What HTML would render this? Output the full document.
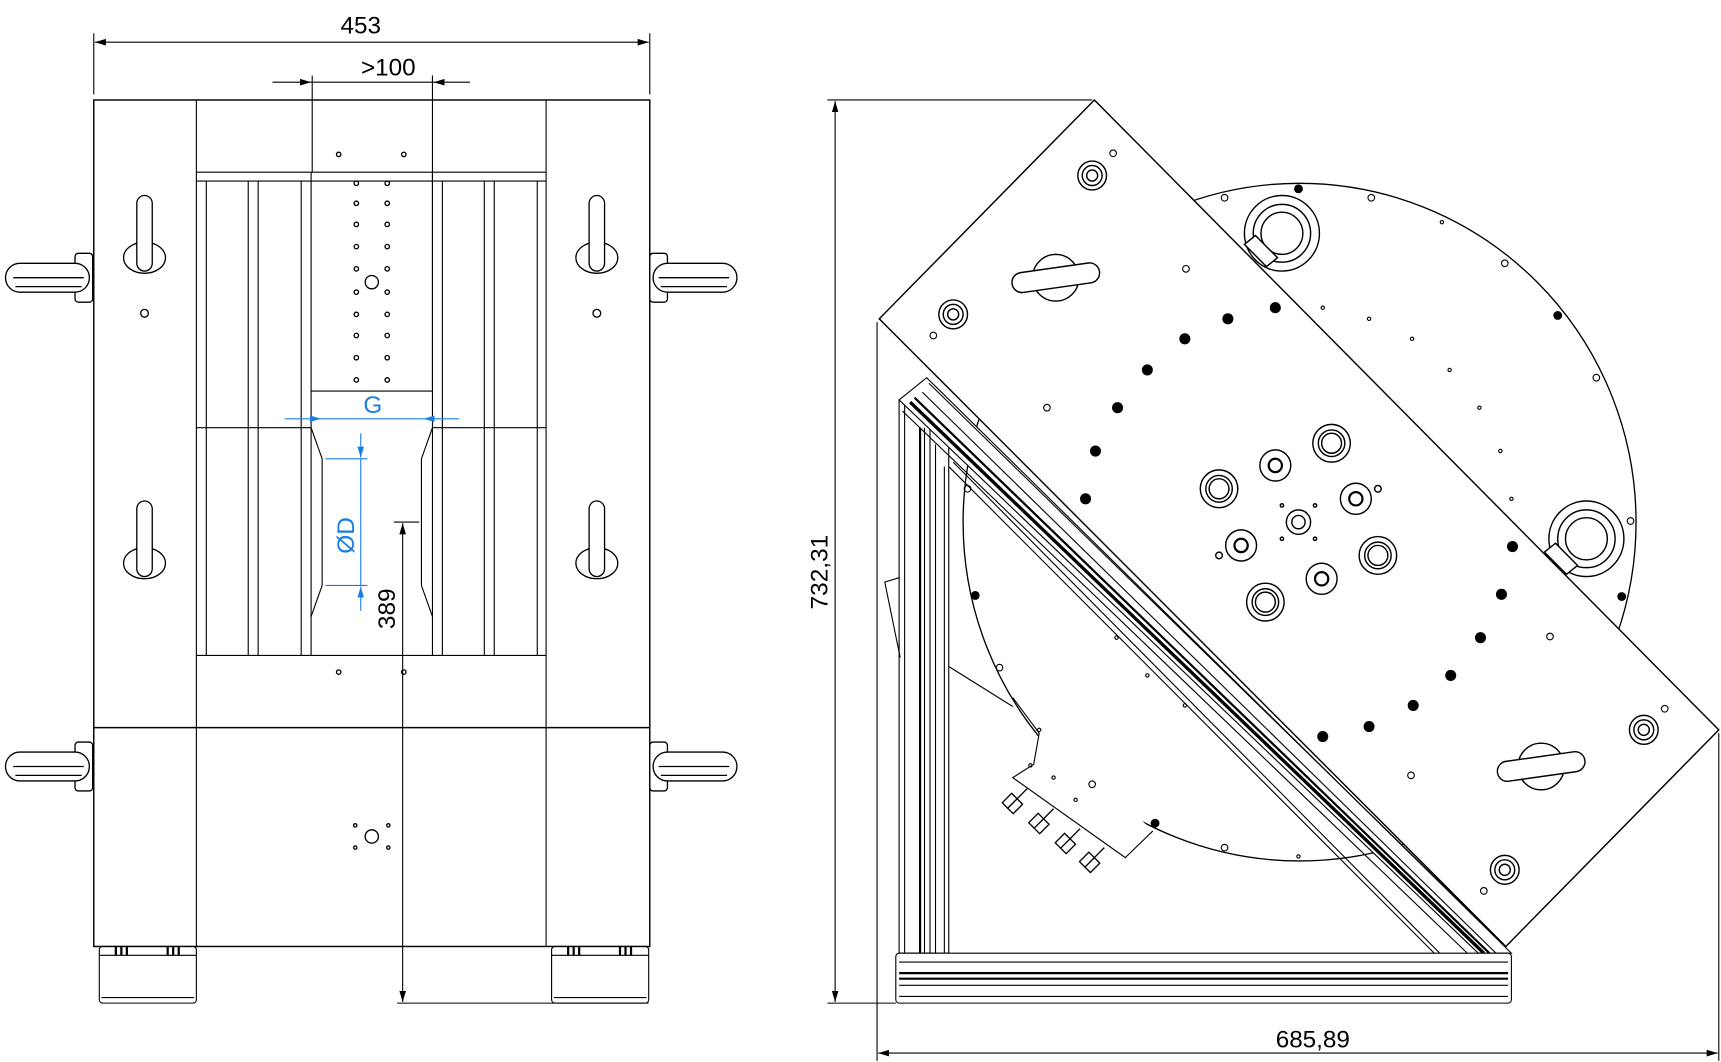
<!DOCTYPE html>
<html><head><meta charset="utf-8"><style>html,body{margin:0;padding:0;background:#fff}svg{display:block}</style></head>
<body>
<svg width="1721" height="1062" viewBox="0 0 1560 956" preserveAspectRatio="none" xmlns="http://www.w3.org/2000/svg" font-family="Liberation Sans, sans-serif">
<defs>
<marker id="a" viewBox="0 0 10 6" refX="10" refY="3" markerWidth="10" markerHeight="6" orient="auto-start-reverse" markerUnits="userSpaceOnUse"><path d="M0,0L10,3L0,6z" fill="#000"/></marker>
<marker id="b" viewBox="0 0 10 6" refX="10" refY="3" markerWidth="10" markerHeight="6" orient="auto-start-reverse" markerUnits="userSpaceOnUse"><path d="M0,0L10,3L0,6z" fill="#1a7fe0"/></marker>
<g id="sc" stroke="#000" fill="#fff" stroke-width="1.3"><circle r="13"/><circle r="9"/><circle r="5"/></g>
<g id="big" stroke="#000" fill="none" stroke-width="1.3"><circle r="17"/><circle r="12"/><circle r="9"/></g>
<g id="med" stroke="#000" fill="none" stroke-width="1.3"><circle r="14"/><circle r="6" stroke-width="2"/></g>
<g id="cn" stroke="#000" fill="#fff" stroke-width="1.2"><rect x="-7" y="-7" width="14" height="12" transform="rotate(45)"/><path d="M4,-4l10,-10M-4,4l10,-10"/></g>
</defs>
<g stroke="#000" fill="none" stroke-width="1">
<line x1="85" y1="30" x2="85" y2="85"/><line x1="589" y1="30" x2="589" y2="85"/>
<line x1="86" y1="38" x2="588" y2="38" marker-start="url(#a)" marker-end="url(#a)"/>
<line x1="283" y1="68" x2="283" y2="155"/><line x1="392" y1="68" x2="392" y2="350"/>
<line x1="247" y1="74" x2="282" y2="74" marker-end="url(#a)"/><line x1="426" y1="74" x2="393" y2="74" marker-end="url(#a)"/>
<line x1="282" y1="74" x2="393" y2="74"/>
<rect x="85" y="90" width="504" height="762" stroke-width="1.3"/>
<line x1="178" y1="90" x2="178" y2="852"/><line x1="495" y1="90" x2="495" y2="852"/>
<line x1="85" y1="655" x2="589" y2="655" stroke-width="1.3"/>
<line x1="178" y1="155" x2="495" y2="155"/><line x1="178" y1="163" x2="495" y2="163"/>
<line x1="178" y1="590" x2="495" y2="590"/>
<g>
<line x1="187" y1="163" x2="187" y2="590"/><line x1="225" y1="163" x2="225" y2="590"/><line x1="234" y1="163" x2="234" y2="590"/><line x1="273" y1="163" x2="273" y2="590"/><line x1="282" y1="155" x2="282" y2="590"/>
<line x1="392" y1="155" x2="392" y2="590"/><line x1="401" y1="163" x2="401" y2="590"/><line x1="439" y1="163" x2="439" y2="590"/><line x1="448" y1="163" x2="448" y2="590"/><line x1="487" y1="163" x2="487" y2="590"/>
<line x1="178" y1="385" x2="282" y2="385"/><line x1="392" y1="385" x2="495" y2="385"/>
<line x1="282" y1="352" x2="392" y2="352"/>
<path d="M282,385L292,413V527L282,555M392,385L382,413V527L392,555"/>
</g>
<g stroke-width="1.2">
<circle cx="307" cy="139" r="2"/><circle cx="366" cy="139" r="2"/>
<circle cx="307" cy="605" r="2"/><circle cx="366" cy="605" r="2"/>
<circle cx="131" cy="282" r="3.5"/><circle cx="541" cy="282" r="3.5"/>
<circle cx="337" cy="254" r="6"/><circle cx="337" cy="753" r="6"/>
<circle cx="322" cy="743" r="1.5"/><circle cx="352" cy="743" r="1.5"/><circle cx="322" cy="763" r="1.5"/><circle cx="352" cy="763" r="1.5"/>
<circle cx="323" cy="165" r="2"/><circle cx="351" cy="165" r="2"/><circle cx="323" cy="183" r="2"/><circle cx="351" cy="183" r="2"/><circle cx="323" cy="202" r="2"/><circle cx="351" cy="202" r="2"/><circle cx="323" cy="222" r="2"/><circle cx="351" cy="222" r="2"/><circle cx="323" cy="242" r="2"/><circle cx="351" cy="242" r="2"/><circle cx="323" cy="263" r="2"/><circle cx="351" cy="263" r="2"/><circle cx="323" cy="283" r="2"/><circle cx="351" cy="283" r="2"/><circle cx="323" cy="302" r="2"/><circle cx="351" cy="302" r="2"/><circle cx="323" cy="322" r="2"/><circle cx="351" cy="322" r="2"/><circle cx="323" cy="342" r="2"/><circle cx="351" cy="342" r="2"/>
</g>
<g stroke-width="1.2">
<g id="vh"><ellipse cx="131" cy="232" rx="19" ry="14"/><rect x="124" y="176" width="14" height="68" rx="7" fill="#fff"/></g>
<use href="#vh" y="275"/><use href="#vh" x="410"/><use href="#vh" x="410" y="275"/>
<g id="sh"><rect x="68" y="228" width="16" height="44" rx="3" fill="#fff"/><rect x="5" y="237" width="76" height="26" rx="13" fill="#fff"/><line x1="12" y1="250" x2="76" y2="250"/><line x1="14" y1="258" x2="74" y2="258"/></g>
<use href="#sh" y="440"/>
<g transform="translate(673,0) scale(-1,1)"><use href="#sh"/><use href="#sh" y="440"/></g>
</g>
<rect x="90" y="852" width="88" height="51" rx="3"/><rect x="500" y="852" width="88" height="51" rx="3"/>
<line x1="90" y1="860" x2="178" y2="860"/><line x1="500" y1="860" x2="588" y2="860"/>
<line x1="92" y1="898" x2="176" y2="898"/><line x1="502" y1="898" x2="586" y2="898"/>
<path d="M105,852v8M110,852v8M115,852v8M152,852v8M157,852v8M162,852v8M515,852v8M520,852v8M525,852v8M562,852v8M567,852v8M572,852v8" stroke-width="2"/>
<line x1="357" y1="470" x2="380" y2="470"/><line x1="360" y1="903" x2="588" y2="903"/>
<line x1="365" y1="471" x2="365" y2="902" marker-start="url(#a)" marker-end="url(#a)"/>
</g>
<g stroke="#1a7fe0" fill="none">
<line x1="258" y1="377" x2="291" y2="377" marker-end="url(#b)"/><line x1="416" y1="377" x2="384" y2="377" marker-end="url(#b)"/><line x1="291" y1="377" x2="384" y2="377"/>
<line x1="295" y1="413" x2="333" y2="413"/><line x1="295" y1="527" x2="333" y2="527"/>
<line x1="327" y1="390" x2="327" y2="412" marker-end="url(#b)"/><line x1="327" y1="550" x2="327" y2="528" marker-end="url(#b)"/><line x1="327" y1="413" x2="327" y2="527"/>
</g>
<g font-size="22">
<text x="327" y="30" text-anchor="middle">453</text>
<text x="352" y="68" text-anchor="middle">&gt;100</text>
<text x="338" y="372" text-anchor="middle" fill="#1a7fe0">G</text>
<text transform="translate(321,482) rotate(-90)" text-anchor="middle" fill="#1a7fe0">ØD</text>
<text transform="translate(358,548) rotate(-90)" text-anchor="middle">389</text>
<text transform="translate(750,515) rotate(-90)" text-anchor="middle">732,31</text>
<text x="1190" y="943" text-anchor="middle">685,89</text>
</g>
<g stroke="#000" fill="none" stroke-width="1">
<line x1="750" y1="90" x2="990" y2="90"/><line x1="750" y1="903" x2="812" y2="903"/>
<line x1="757" y1="91" x2="757" y2="902" marker-start="url(#a)" marker-end="url(#a)"/>
<line x1="795" y1="290" x2="795" y2="955"/><line x1="1558" y1="660" x2="1558" y2="955"/>
<line x1="796" y1="948" x2="1557" y2="948" marker-start="url(#a)" marker-end="url(#a)"/>
<circle cx="1178" cy="470" r="305" stroke-width="1.2"/>
<path d="M918,628L942,660L937,688L918,700L1020,772L1045,748" fill="#fff"/>
<polygon points="992,90 1558,657 1365,852 797,287" fill="#fff" stroke-width="1.3"/>
<g stroke-width="1.3"><circle cx="1162" cy="210" r="34"/><circle cx="1162" cy="210" r="26"/><circle cx="1162" cy="210" r="19"/>
<circle cx="1438" cy="485" r="34"/><circle cx="1438" cy="485" r="26"/><circle cx="1438" cy="485" r="19"/>
<path d="M1128,220l10,-8l20,20l-10,8z M1400,497l10,-8l20,20l-10,8z" fill="#fff"/></g>
<g stroke-width="1.3"><circle cx="957" cy="250" r="21" fill="#fff"/><rect x="917" y="241" width="80" height="18" rx="9" transform="rotate(-8 957 250)" fill="#fff"/>
<circle cx="1397" cy="690" r="21" fill="#fff"/><rect x="1357" y="681" width="80" height="18" rx="9" transform="rotate(-8 1397 690)" fill="#fff"/></g>
<use href="#sc" x="990" y="158"/><use href="#sc" x="864" y="283"/><use href="#sc" x="1490" y="657"/><use href="#sc" x="1364" y="783"/>
<use href="#big" x="1207" y="399"/><use href="#big" x="1105" y="440"/><use href="#big" x="1249" y="500"/><use href="#big" x="1147" y="542"/>
<use href="#med" x="1156" y="419"/><use href="#med" x="1229" y="449"/><use href="#med" x="1125" y="491"/><use href="#med" x="1198" y="521"/>
<g stroke-width="1.3">
<circle cx="1177" cy="470" r="11"/><circle cx="1177" cy="470" r="6"/>
<circle cx="1249" cy="440" r="3"/><circle cx="1105" cy="500" r="3"/>
<circle cx="1162" cy="455" r="1.5"/><circle cx="1192" cy="455" r="1.5"/><circle cx="1162" cy="485" r="1.5"/><circle cx="1192" cy="485" r="1.5"/>
</g>
<g fill="#000" stroke="none">
<circle cx="1113" cy="287" r="5"/><circle cx="1074" cy="305" r="5"/><circle cx="1040" cy="333" r="5"/><circle cx="1013" cy="367" r="5"/><circle cx="993" cy="406" r="5"/><circle cx="984" cy="449" r="5"/><circle cx="1156" cy="277" r="5"/>
<circle cx="1371" cy="492" r="5"/><circle cx="1361" cy="535" r="5"/><circle cx="1342" cy="574" r="5"/><circle cx="1315" cy="608" r="5"/><circle cx="1281" cy="635" r="5"/><circle cx="1241" cy="654" r="5"/><circle cx="1199" cy="663" r="5"/>
<circle cx="1177" cy="170" r="4"/><circle cx="1412" cy="284" r="4"/><circle cx="1470" cy="537" r="4"/><circle cx="884" cy="536" r="4"/><circle cx="1047" cy="741" r="4"/>
</g>
<g stroke-width="1">
<circle cx="1009" cy="138" r="3"/><circle cx="846" cy="302" r="3"/><circle cx="1075" cy="242" r="3"/><circle cx="949" cy="367" r="3"/><circle cx="1509" cy="638" r="3"/><circle cx="1345" cy="802" r="3"/><circle cx="1279" cy="698" r="3"/><circle cx="1405" cy="573" r="3"/>
<circle cx="1110" cy="178" r="3"/><circle cx="1243" cy="178" r="3"/><circle cx="1364" cy="237" r="3"/><circle cx="1447" cy="340" r="3"/><circle cx="1478" cy="469" r="3"/><circle cx="1110" cy="763" r="3"/><circle cx="906" cy="601" r="3"/><circle cx="877" cy="440" r="3"/>
<circle cx="1199" cy="277" r="1.5"/><circle cx="1241" cy="287" r="1.5"/><circle cx="1280" cy="305" r="1.5"/><circle cx="1314" cy="333" r="1.5"/><circle cx="1341" cy="367" r="1.5"/><circle cx="1360" cy="406" r="1.5"/><circle cx="1370" cy="449" r="1.5"/><circle cx="1307" cy="200" r="1.5"/><circle cx="1177" cy="771" r="1.5"/><circle cx="1012" cy="574" r="1.5"/><circle cx="1040" cy="608" r="1.5"/><circle cx="1074" cy="635" r="1.5"/>
<circle cx="942" cy="657" r="1.5"/><circle cx="934" cy="689" r="1.5"/><circle cx="990" cy="706" r="3"/><circle cx="955" cy="700" r="1.5"/><circle cx="975" cy="720" r="1.5"/>
</g>
<use href="#cn" x="917" y="724"/><use href="#cn" x="941" y="742"/><use href="#cn" x="965" y="760"/><use href="#cn" x="987" y="777"/>
<g stroke-width="1">
<rect x="815" y="360" width="45" height="498" fill="#fff"/>
<line x1="820" y1="365" x2="820" y2="858"/><line x1="834" y1="385" x2="834" y2="858" stroke-width="2"/><line x1="838" y1="385" x2="838" y2="858"/><line x1="843" y1="385" x2="843" y2="858"/><line x1="848" y1="400" x2="848" y2="858"/><line x1="856" y1="420" x2="856" y2="858"/>
<path d="M815,520l-13,4l14,68"/>
<path d="M860,600l58,36"/>
<polygon points="815,360 840,340 1370,858 1340,858" fill="#fff"/>
<line x1="818" y1="370" x2="1330" y2="858"/>
<line x1="825" y1="362" x2="1345" y2="858" stroke-width="3"/>
<line x1="829" y1="358" x2="1350" y2="858" stroke-width="2"/>
<line x1="836" y1="353" x2="1356" y2="858"/>
<line x1="842" y1="345" x2="1365" y2="852"/>
<line x1="860" y1="420" x2="1300" y2="858"/><line x1="864" y1="416" x2="1305" y2="858"/>
<rect x="812" y="858" width="558" height="45" rx="3" fill="#fff"/>
<line x1="815" y1="866" x2="1367" y2="866"/><line x1="815" y1="876" x2="1367" y2="876" stroke-width="2"/><line x1="815" y1="881" x2="1367" y2="881" stroke-width="2"/><line x1="815" y1="887" x2="1367" y2="887"/><line x1="815" y1="897" x2="1367" y2="897"/>
</g>
</g>
</svg>
</body></html>
